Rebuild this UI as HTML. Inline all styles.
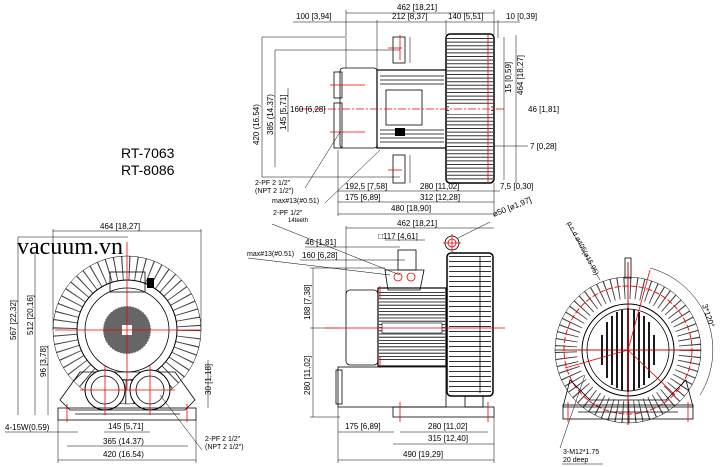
<!DOCTYPE html>
<html><head><meta charset="utf-8"><style>
html,body{margin:0;padding:0;background:#fff}
svg{display:block}
text{font-family:"Liberation Sans",sans-serif;font-size:8px;fill:#000}
.s7{font-size:7px}
.k{stroke:#000;fill:none;stroke-width:0.8}
.t{stroke:#000;fill:none;stroke-width:0.5}
.r{stroke:#e00;fill:none;stroke-width:0.8}
.rd{stroke:#e00;fill:none;stroke-width:0.8;stroke-dasharray:8 2 2 2}
</style></head><body>
<svg width="720" height="467" viewBox="0 0 720 467" xmlns="http://www.w3.org/2000/svg">

<!-- ============ TOP VIEW ============ -->
<g>
<line class="t" x1="346" y1="13" x2="494" y2="13"/>
<text x="397" y="10">462 [18,21]</text>
<line class="t" x1="293" y1="22" x2="520" y2="22"/>
<text x="296" y="19">100 [3,94]</text>
<text x="392" y="19">212 [8,37]</text>
<text x="448" y="19">140 [5,51]</text>
<text x="506" y="19">10 [0,39]</text>
<line class="t" x1="346" y1="10" x2="346" y2="68"/>
<line class="t" x1="377" y1="20" x2="377" y2="70"/>
<line class="t" x1="446" y1="20" x2="446" y2="35"/>
<line class="t" x1="494" y1="10" x2="494" y2="35"/>
<line class="t" x1="498" y1="20" x2="498" y2="38"/>
<rect class="k" x="340" y="68" width="37" height="80" rx="3"/>
<rect class="k" x="334" y="72" width="8" height="26"/>
<rect class="k" x="334" y="103" width="8" height="45"/>
<rect x="377" y="70" width="70" height="78" fill="#fff" stroke="#000" stroke-width="1.2"/>
<g stroke="#000" stroke-width="0.7">
<line x1="380" y1="76" x2="444" y2="76"/><line x1="380" y1="80" x2="444" y2="80"/><line x1="380" y1="84" x2="444" y2="84"/>
<line x1="380" y1="130" x2="444" y2="130"/><line x1="380" y1="134" x2="444" y2="134"/><line x1="380" y1="138" x2="444" y2="138"/><line x1="380" y1="142" x2="444" y2="142"/>
</g>
<rect class="k" x="386" y="90" width="36" height="35"/>
<rect x="395" y="128" width="10" height="8" fill="#000"/>
<rect class="k" x="393" y="37" width="12" height="26"/>
<rect class="k" x="393" y="155" width="12" height="28"/>
<line class="t" x1="410" y1="37" x2="410" y2="63"/><line class="t" x1="410" y1="155" x2="410" y2="183"/>
<rect x="446" y="34" width="48" height="149" rx="4" fill="#fff" stroke="#000" stroke-width="1.5"/>
<line x1="470" y1="38" x2="470" y2="180" stroke="#333" stroke-width="46" stroke-dasharray="1 2.6"/>
<rect x="449" y="104" width="42" height="10" fill="#fff"/>
<line class="rd" x1="300" y1="109" x2="505" y2="109"/>
<line class="r" x1="400" y1="35" x2="400" y2="60"/>
<line class="r" x1="388" y1="48" x2="402" y2="48"/>
<line class="r" x1="388" y1="170" x2="402" y2="170"/>
<line class="r" x1="330" y1="85" x2="365" y2="85"/>
<line class="r" x1="330" y1="132" x2="365" y2="132"/>
<line class="r" x1="488" y1="35" x2="488" y2="182"/>
<line class="t" x1="262" y1="37" x2="262" y2="177"/>
<line class="t" x1="275" y1="50" x2="275" y2="167"/>
<line class="t" x1="288" y1="88" x2="288" y2="132"/>
<text transform="translate(259,145) rotate(-90)">420 (16.54)</text>
<text transform="translate(273,135) rotate(-90)">385 (14.37)</text>
<text transform="translate(286,130) rotate(-90)">145 [5,71]</text>
<text x="290" y="112">160 [6,28]</text>
<line class="t" x1="262" y1="37" x2="345" y2="37"/>
<line class="t" x1="275" y1="50" x2="400" y2="50"/>
<line class="t" x1="262" y1="177" x2="400" y2="177"/>
<line class="t" x1="504" y1="37" x2="504" y2="180"/>
<line class="t" x1="516" y1="35" x2="516" y2="183"/>
<text transform="translate(511,93) rotate(-90)">15 [0,59]</text>
<text transform="translate(523,95) rotate(-90)">464 [18,27]</text>
<text x="528" y="112">46 [1,81]</text>
<text x="530" y="149">7 [0,28]</text>
<line class="t" x1="494" y1="146" x2="528" y2="146"/>
<line class="t" x1="338" y1="191" x2="500" y2="191"/>
<line class="t" x1="338" y1="202" x2="494" y2="202"/>
<line class="t" x1="338" y1="214" x2="494" y2="214"/>
<line class="t" x1="338" y1="150" x2="338" y2="216"/>
<line class="t" x1="494" y1="183" x2="494" y2="216"/>
<text x="345" y="189">192,5 [7,58]</text>
<text x="420" y="189">280 [11,02]</text>
<text x="500" y="189">7,5 [0,30]</text>
<text x="345" y="200">175 [6,89]</text>
<text x="420" y="200">312 [12,28]</text>
<text x="391" y="211">480 [18,90]</text>
<text x="255" y="185" class="s7">2-PF 2 1/2"</text>
<text x="255" y="193" class="s7">(NPT 2 1/2")</text>
<text x="272" y="203" class="s7">max#13(#0.51)</text>
<text x="273" y="215" class="s7">2-PF 1/2"</text>
<text x="288" y="222" style="font-size:6px">14teeth</text>
<line class="t" x1="305" y1="188" x2="340" y2="132"/>
<line class="t" x1="325" y1="203" x2="380" y2="150"/>
<text transform="translate(494,217) rotate(-22)">ø50 [ø1,97]</text>
</g>

<text x="121" y="158" style="font-size:14px">RT-7063</text>
<text x="121" y="175" style="font-size:14px">RT-8086</text>

<!-- ============ FRONT VIEW (left) ============ -->
<g>
<text x="100" y="229">464 [18,27]</text>
<line class="t" x1="53" y1="231" x2="201" y2="231"/>
<line class="t" x1="53" y1="229" x2="53" y2="330"/>
<line class="t" x1="201" y1="229" x2="201" y2="330"/>
<text x="17" y="254" style="font-family:'Liberation Serif',serif;font-size:24px">vacuum.vn</text>
<line class="t" x1="18" y1="237" x2="128" y2="237"/>
<line class="t" x1="18" y1="237" x2="18" y2="415"/>
<line class="t" x1="35" y1="252" x2="35" y2="415"/>
<line class="t" x1="48" y1="345" x2="48" y2="415"/>
<text transform="translate(16,340) rotate(-90)">567 [22,32]</text>
<text transform="translate(33,335) rotate(-90)">512 [20,16]</text>
<text transform="translate(46,377) rotate(-90)">96 [3,78]</text>
<circle cx="127" cy="330" r="62" fill="none" stroke="#444" stroke-width="24" stroke-dasharray="1 6"/>
<circle cx="127" cy="330" r="74" class="t"/>
<circle cx="127" cy="330" r="50" fill="#fff" stroke="#000" stroke-width="1"/>
<circle cx="127" cy="330" r="42" class="k"/>
<circle cx="127" cy="330" r="24" fill="#000" opacity="0.6"/>
<circle cx="127" cy="330" r="24" fill="none" stroke="#fff" stroke-width="1" stroke-dasharray="1.5 1.5"/>
<rect x="122" y="325" width="10" height="10" fill="#fff"/>
<rect class="k" x="110" y="272" width="35" height="20" fill="#fff"/>
<rect x="147" y="278" width="7" height="10" fill="#000"/>
<path class="k" d="M70 410 L60 400 L80 372 L175 372 L195 400 L185 410Z" fill="#fff"/>
<circle cx="105" cy="390" r="20" fill="#fff" stroke="#000"/>
<circle cx="105" cy="390" r="14" class="k"/>
<circle cx="150" cy="390" r="20" fill="#fff" stroke="#000"/>
<circle cx="150" cy="390" r="14" class="k"/>
<rect class="k" x="58" y="408" width="138" height="12" fill="#fff"/>
<line class="k" x1="75" y1="414" x2="180" y2="414"/>
<line class="r" x1="127" y1="242" x2="127" y2="390"/>
<line class="r" x1="55" y1="330" x2="200" y2="330"/>
<line class="r" x1="80" y1="390" x2="175" y2="390"/>
<line class="r" x1="105" y1="365" x2="105" y2="415"/>
<line class="r" x1="150" y1="365" x2="150" y2="415"/>
<line class="r" x1="67" y1="404" x2="67" y2="422"/>
<line class="r" x1="187" y1="404" x2="187" y2="422"/>
<text transform="translate(211,395) rotate(-90)">30 [1,18]</text>
<line class="t" x1="208" y1="360" x2="208" y2="408"/>
<text x="5" y="430">4-15W(0.59)</text>
<line class="t" x1="5" y1="432" x2="78" y2="432"/>
<line class="t" x1="104" y1="432" x2="150" y2="432"/>
<text x="108" y="429">145 [5,71]</text>
<line class="t" x1="67" y1="446" x2="188" y2="446"/>
<text x="103" y="444">365 (14.37)</text>
<line class="t" x1="58" y1="460" x2="196" y2="460"/>
<text x="103" y="457">420 (16.54)</text>
<line class="t" x1="58" y1="420" x2="58" y2="463"/><line class="t" x1="196" y1="420" x2="196" y2="463"/>
<line class="t" x1="160" y1="395" x2="202" y2="450"/>
<text x="205" y="441" class="s7">2-PF 2 1/2"</text>
<text x="205" y="449" class="s7">(NPT 2 1/2")</text>
</g>

<!-- ============ SIDE VIEW (middle) ============ -->
<g>
<text x="397" y="226">462 [18,21]</text>
<line class="t" x1="346" y1="228" x2="494" y2="228"/>
<line class="t" x1="346" y1="226" x2="346" y2="295"/>
<text x="378" y="239">□117 [4,61]</text>
<line class="t" x1="385" y1="240" x2="425" y2="240"/>
<text x="305" y="245">46 [1,81]</text>
<line class="t" x1="305" y1="247" x2="400" y2="247"/>
<text x="302" y="258">160 [6,28]</text>
<line class="t" x1="300" y1="260" x2="405" y2="260"/>
<text x="247" y="256" class="s7">max#13(#0.51)</text>
<line class="t" x1="248" y1="258" x2="390" y2="275"/>
<line class="t" x1="272" y1="224" x2="400" y2="275"/>
<line class="t" x1="310" y1="268" x2="385" y2="268"/>
<line class="t" x1="310" y1="328" x2="340" y2="328"/>
<line class="t" x1="310" y1="417" x2="340" y2="417"/>
<line class="t" x1="313" y1="268" x2="313" y2="417"/>
<text transform="translate(310,320) rotate(-90)">188 [7,38]</text>
<text transform="translate(310,395) rotate(-90)">280 [11,02]</text>
<rect class="k" x="346" y="290" width="32" height="75" rx="4" fill="#fff"/>
<rect x="378" y="288" width="68" height="78" fill="#fff" stroke="#000" stroke-width="1.2"/>
<line x1="412" y1="292" x2="412" y2="362" stroke="#000" stroke-width="66" stroke-dasharray="0.8 2.4"/>
<rect x="382" y="323" width="60" height="10" fill="#fff" stroke="#000" stroke-width="0.6"/>
<path class="k" d="M388 290 L385 270 L424 270 L420 290Z" fill="#fff"/>
<rect class="k" x="398" y="250" width="18" height="20"/>
<circle cx="398" cy="277" r="4" class="r"/><circle cx="411" cy="277" r="4" class="r"/>
<rect class="k" x="338" y="367" width="108" height="40" fill="#fff"/>
<rect class="k" x="336" y="370" width="6" height="34"/>
<rect class="k" x="393" y="407" width="101" height="10" fill="#fff"/>
<rect class="k" x="465" y="385" width="18" height="22"/>
<rect x="447" y="253" width="46" height="143" rx="4" fill="#fff" stroke="#000" stroke-width="1.5"/>
<line x1="470" y1="256" x2="470" y2="393" stroke="#333" stroke-width="42" stroke-dasharray="1 4"/>
<line class="k" x1="480" y1="256" x2="480" y2="393"/>
<circle cx="452" cy="243" r="7" class="k"/>
<circle cx="452" cy="243" r="4" class="r"/>
<line class="r" x1="443" y1="243" x2="461" y2="243"/><line class="r" x1="452" y1="234" x2="452" y2="252"/>
<line class="t" x1="458" y1="238" x2="490" y2="222"/>
<line class="r" x1="325" y1="328" x2="505" y2="328"/>
<line class="r" x1="380" y1="286" x2="380" y2="298"/>
<line class="r" x1="380" y1="357" x2="380" y2="368"/>
<line class="r" x1="400" y1="402" x2="400" y2="422"/>
<line class="r" x1="488" y1="402" x2="488" y2="422"/>
<line class="t" x1="338" y1="432" x2="394" y2="432"/>
<text x="345" y="429">175 [6,89]</text>
<line class="t" x1="400" y1="432" x2="488" y2="432"/>
<text x="428" y="429">280 [11,02]</text>
<line class="t" x1="393" y1="444" x2="494" y2="444"/>
<text x="428" y="441">315 [12,40]</text>
<line class="t" x1="338" y1="460" x2="494" y2="460"/>
<text x="403" y="457">490 [19,29]</text>
<line class="t" x1="338" y1="407" x2="338" y2="463"/><line class="t" x1="494" y1="417" x2="494" y2="463"/>
</g>

<!-- ============ REAR VIEW (right) ============ -->
<g>
<circle cx="628" cy="350" r="62" fill="none" stroke="#444" stroke-width="22" stroke-dasharray="1 5"/>
<circle cx="628" cy="350" r="73" class="t"/>
<circle cx="628" cy="350" r="64" fill="none" stroke="#e00" stroke-width="0.9" stroke-dasharray="6 2"/>
<circle cx="628" cy="350" r="46" fill="#fff" stroke="#000" stroke-width="1"/>
<circle cx="628" cy="350" r="41" class="k"/>
<g stroke="#000" stroke-width="1.8">
<line x1="602" y1="335" x2="602" y2="365"/><line x1="607" y1="322" x2="607" y2="378"/><line x1="612" y1="316" x2="612" y2="385"/><line x1="617" y1="312" x2="617" y2="388"/><line x1="622" y1="310" x2="622" y2="390"/><line x1="628" y1="308" x2="628" y2="392"/><line x1="634" y1="310" x2="634" y2="390"/><line x1="639" y1="312" x2="639" y2="388"/><line x1="644" y1="316" x2="644" y2="385"/><line x1="649" y1="322" x2="649" y2="378"/><line x1="654" y1="335" x2="654" y2="365"/>
</g>
<line class="k" x1="555" y1="350" x2="701" y2="350"/>
<line class="k" x1="628" y1="262" x2="628" y2="425"/>
<rect class="k" x="625" y="258" width="6" height="20" fill="#fff"/>
<line class="r" x1="628" y1="262" x2="628" y2="425"/>
<line class="r" x1="560" y1="350" x2="700" y2="350"/>
<line class="r" x1="628" y1="350" x2="650" y2="270"/>
<line class="r" x1="628" y1="350" x2="565" y2="368"/>
<line class="r" x1="628" y1="350" x2="675" y2="395"/>
<path class="k" d="M563 407 L570 380 L590 400 L666 400 L686 380 L693 407Z" fill="#fff"/>
<rect class="k" x="563" y="405" width="130" height="14" fill="#fff"/>
<line class="k" x1="578" y1="412" x2="678" y2="412"/>
<line class="r" x1="568" y1="402" x2="568" y2="422"/><line class="r" x1="688" y1="402" x2="688" y2="422"/>
<path class="t" d="M650 268 A85 85 0 0 1 700 395"/>
<text transform="translate(702,305) rotate(72)">3*120°</text>
<line class="t" x1="568" y1="224" x2="600" y2="280"/>
<text transform="translate(567,223) rotate(62)" class="s7">p.c.d ø405(ø15.95)</text>
<line class="t" x1="560" y1="448" x2="585" y2="375"/>
<text x="563" y="454" class="s7">3-M12*1.75</text>
<text x="563" y="462" class="s7">20 deep</text>
<line class="t" x1="562" y1="464" x2="603" y2="464"/>
</g>
</svg>
</body></html>
